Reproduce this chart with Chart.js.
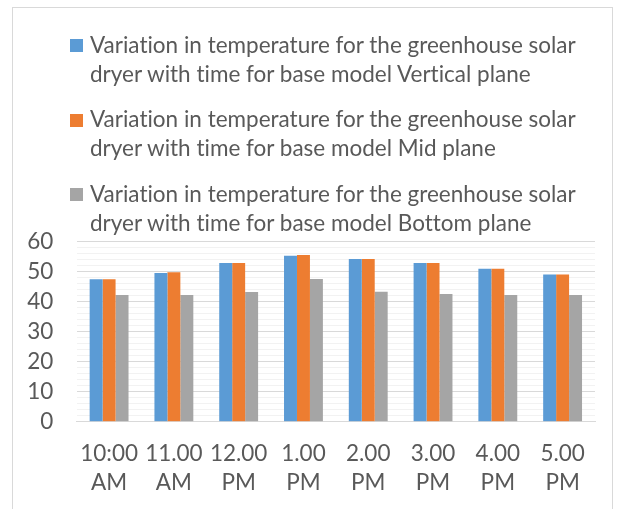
<!DOCTYPE html>
<html>
<head>
<meta charset="utf-8">
<script src="https://cdn.jsdelivr.net/npm/chart.js@4/dist/chart.umd.min.js"></script>
<style>
  html, body { margin: 0; padding: 0; background: #ffffff; }
  #wrap { position: relative; width: 619px; height: 509px; overflow: hidden; font-family: Lato, "Liberation Sans", sans-serif; }
  #frame { position: absolute; left: 12px; top: 7px; width: 601px; height: 530px; border: 1px solid #d9d9d9; box-sizing: border-box; background: #ffffff; }
  #chart { position: absolute; left: 0; top: 0; }
  #legend { position: absolute; left: 70px; top: 30.1px; }
  .item { display: flex; align-items: flex-start; margin-bottom: 16.25px; }
  .swatch { width: 13px; height: 13px; margin-top: 9.2px; margin-right: 7px; flex: none; }
  .txt { font-size: 22.5px; line-height: 29px; color: #595959; white-space: nowrap;
         font-variant-ligatures: none; font-feature-settings: "liga" 0; }
</style>
</head>
<body>
<div id="wrap">
  <div id="frame"></div>
  <canvas id="chart" width="619" height="509"></canvas>
  <div id="legend"></div>
</div>
<script>
// Time of day (two-line tick labels)
const timeLabels = [
  ["10:00", "AM"], ["11.00", "AM"], ["12.00", "PM"], ["1.00", "PM"],
  ["2.00", "PM"], ["3.00", "PM"], ["4.00", "PM"], ["5.00", "PM"]
];

// Temperature readings per plane
const verticalPlane = [47.5, 49.6, 52.9, 55.3, 54.2, 52.9, 51.0, 49.1];
const midPlane      = [47.5, 49.8, 52.9, 55.6, 54.2, 52.9, 51.0, 49.1];
const bottomPlane   = [42.2, 42.2, 43.2, 47.6, 43.3, 42.6, 42.2, 42.2];

// Legend text, split where the lines wrap
const seriesLabels = [
  ["Variation in temperature for the greenhouse solar", "dryer with time for base model Vertical plane"],
  ["Variation in temperature for the greenhouse solar", "dryer with time for base model Mid plane"],
  ["Variation in temperature for the greenhouse solar", "dryer with time for base model Bottom plane"]
];

// Y axis range and steps
const yMin = 0, yMax = 60, yMajorStep = 10, yMinorStep = 2;

const seriesColors = ["#5B9BD5", "#ED7D31", "#A5A5A5"];
const textColor = "#595959";
const fontFamily = "Lato, 'Liberation Sans', sans-serif";
const fontSize = 22.5;

const seriesValues = [verticalPlane, midPlane, bottomPlane];
const datasets = seriesValues.map((vals, i) => ({
  label: seriesLabels[i].join(" "),
  data: vals,
  backgroundColor: seriesColors[i],
  borderWidth: 0,
  barPercentage: 1.0,
  categoryPercentage: 0.6
}));

const chart = new Chart(document.getElementById("chart"), {
  type: "bar",
  data: { labels: timeLabels, datasets },
  options: {
    responsive: false,
    animation: false,
    devicePixelRatio: 1,
    layout: { padding: { top: 241.7, left: 12, right: 24, bottom: 0 } },
    plugins: { legend: { display: false }, tooltip: { enabled: false } },
    scales: {
      x: {
        grid: { display: false, drawTicks: false },
        border: { display: true, color: "#d9d9d9", width: 1 },
        ticks: {
          color: textColor,
          font: { family: fontFamily, size: fontSize, lineHeight: 29 / fontSize },
          padding: 17.6,
          autoSkip: false,
          maxRotation: 0,
          minRotation: 0
        },
        afterFit(scale) { scale.height = 87.3; }
      },
      y: {
        min: yMin,
        max: yMax,
        grid: {
          drawTicks: false,
          color: ctx => (ctx.tick && ctx.tick.value % yMajorStep === 0) ? "#d9d9d9" : "#f2f2f2",
          lineWidth: 1
        },
        border: { display: false },
        ticks: {
          stepSize: yMinorStep,
          autoSkip: false,
          padding: 23.4,
          color: textColor,
          font: { family: fontFamily, size: fontSize, lineHeight: 1.2 },
          callback: v => (v % yMajorStep === 0 ? String(v) : "")
        },
        afterFit(scale) { scale.width = 64.7; }
      }
    }
  }
});

// HTML legend built from the datasets
const legendEl = document.getElementById("legend");
chart.data.datasets.forEach((ds, i) => {
  const item = document.createElement("div");
  item.className = "item";
  const sw = document.createElement("div");
  sw.className = "swatch";
  sw.style.background = ds.backgroundColor;
  const txt = document.createElement("div");
  txt.className = "txt";
  seriesLabels[i].forEach((line, j) => {
    if (j) txt.appendChild(document.createElement("br"));
    txt.appendChild(document.createTextNode(line));
  });
  item.appendChild(sw);
  item.appendChild(txt);
  legendEl.appendChild(item);
});
</script>
</body>
</html>
